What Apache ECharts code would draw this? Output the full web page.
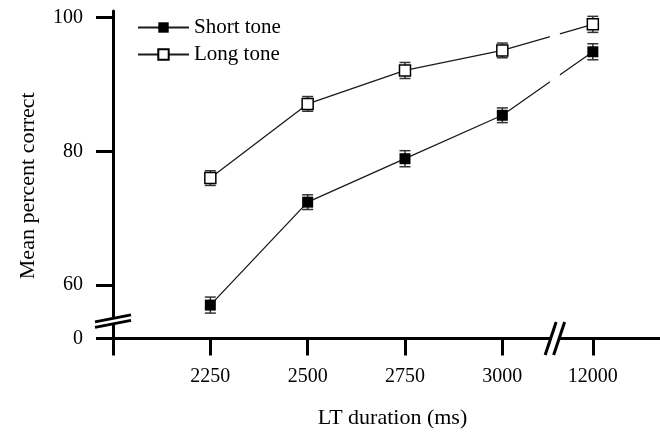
<!DOCTYPE html>
<html>
<head>
<meta charset="utf-8">
<script src="https://cdn.jsdelivr.net/npm/echarts@6/dist/echarts.min.js"></script>
<style>
  html, body { margin: 0; background: #fff; }
  #chart { width: 660px; height: 432px; }
</style>
</head>
<body>
<div id="chart"></div>
<script>
const durations = ['2250', '2500', '2750', '3000', '12000']
const shortTone = [57.0, 72.4, 78.9, 85.4, 94.9]
const shortErr = [1.2, 1.1, 1.2, 1.1, 1.2]
const longTone = [76.0, 87.1, 92.1, 95.1, 99.0]
const longErr = [1.1, 1.1, 1.2, 1.1, 1.2]
const yTicks = [52, 60, 80, 100] // 52 = start of broken axis, shown as 0

// x axis is broken between 3000 and 12000, last step is a bit shorter
const breakStep = 0.93
const xPos = i => (i < 4 ? i + 1 : 4 + breakStep)
const xBreak = 4.54
const yBreak = 54.6

const font = "'Liberation Serif', 'Times New Roman', serif"

function lineSeries(name, values, filled) {
  return {
    name: name,
    type: 'line',
    data: values.map((v, i) => [xPos(i), v]),
    symbol: 'rect',
    symbolSize: 11,
    lineStyle: { color: '#1a1a1a', width: 1.3 },
    itemStyle: { color: filled ? '#000' : '#fff', borderColor: '#000', borderWidth: filled ? 0 : 1.5 },
    z: 3
  }
}

function errorBars(name, values, errs) {
  return {
    name: name + ' sem',
    type: 'custom',
    data: values.map((v, i) => [xPos(i), v - errs[i], v + errs[i]]),
    encode: { x: 0, y: [1, 2] },
    renderItem: (params, api) => {
      const lo = api.coord([api.value(0), api.value(1)])
      const hi = api.coord([api.value(0), api.value(2)])
      const w = 5.5
      const style = { stroke: '#333', lineWidth: 1.5 }
      return {
        type: 'group',
        children: [
          { type: 'line', shape: { x1: lo[0], y1: lo[1], x2: hi[0], y2: hi[1] }, style: style },
          { type: 'line', shape: { x1: lo[0] - w, y1: lo[1], x2: lo[0] + w, y2: lo[1] }, style: style },
          { type: 'line', shape: { x1: hi[0] - w, y1: hi[1], x2: hi[0] + w, y2: hi[1] }, style: style }
        ]
      }
    },
    silent: true,
    z: 2
  }
}

const chart = echarts.init(document.getElementById('chart'))

chart.setOption({
  animation: false,
  textStyle: { fontFamily: font },
  grid: { left: 113, right: 0, top: 11, bottom: 93.5, containLabel: false, outerBoundsMode: 'none' },
  legend: {
    data: ['Short tone', 'Long tone'],
    orient: 'vertical',
    left: 132,
    top: 12,
    itemWidth: 51,
    itemHeight: 13,
    itemGap: 6,
    textStyle: { fontSize: 21, color: '#000', fontFamily: font }
  },
  xAxis: {
    type: 'value',
    min: 0,
    max: 5.62,
    name: 'LT duration (ms)',
    nameLocation: 'middle',
    nameGap: 69,
    nameTextStyle: { fontSize: 22, color: '#000', fontFamily: font, padding: [0, 0, 0, 12] },
    splitLine: { show: false },
    axisLine: { show: true, lineStyle: { color: '#000', width: 3 } },
    axisTick: {
      show: true, length: 17, inside: false,
      lineStyle: { color: '#000', width: 3 },
      customValues: [0].concat(durations.map((d, i) => xPos(i)))
    },
    axisLabel: {
      fontSize: 20, color: '#000', margin: 28, fontFamily: font,
      customValues: durations.map((d, i) => xPos(i)),
      formatter: v => {
        const i = durations.findIndex((d, k) => Math.abs(xPos(k) - v) < 0.01)
        return i >= 0 ? durations[i] : ''
      }
    }
  },
  yAxis: {
    type: 'value',
    min: 52,
    max: 101,
    name: 'Mean percent correct',
    nameLocation: 'middle',
    nameGap: 74,
    nameTextStyle: { fontSize: 22, color: '#000', fontFamily: font, padding: [0, 22, 0, 0] },
    splitLine: { show: false },
    axisLine: { show: true, onZero: false, lineStyle: { color: '#000', width: 3 } },
    axisTick: {
      show: true, length: 17, inside: false,
      lineStyle: { color: '#000', width: 3 },
      customValues: yTicks
    },
    axisLabel: {
      fontSize: 20, color: '#000', margin: 30, fontFamily: font,
      customValues: yTicks,
      formatter: v => (v === 52 ? '0' : String(v))
    }
  },
  series: [
    errorBars('Short tone', shortTone, shortErr),
    errorBars('Long tone', longTone, longErr),
    lineSeries('Short tone', shortTone, true),
    lineSeries('Long tone', longTone, false)
  ]
})

// break marks on both axes and the gap in the lines
const yb = chart.convertToPixel({ gridIndex: 0 }, [0, yBreak])
const xb = chart.convertToPixel({ gridIndex: 0 }, [xBreak, 52])
const gapTop = chart.convertToPixel({ gridIndex: 0 }, [xBreak, 101])
const gapBottom = chart.convertToPixel({ gridIndex: 0 }, [xBreak, 75])
const breakLine = { stroke: '#000', lineWidth: 3 }

chart.setOption({
  graphic: [
    // white gap in the data lines
    { type: 'rect', z: 50, shape: { x: xb[0] - 5, y: gapTop[1], width: 10, height: gapBottom[1] - gapTop[1] }, style: { fill: '#fff' } },
    // y axis break
    { type: 'polygon', z: 50, shape: { points: [[yb[0] - 18, yb[1] + 1], [yb[0] + 18, yb[1] - 6], [yb[0] + 18, yb[1] - 1], [yb[0] - 18, yb[1] + 6]] }, style: { fill: '#fff' } },
    { type: 'line', z: 51, shape: { x1: yb[0] - 18, y1: yb[1] + 0.75, x2: yb[0] + 18, y2: yb[1] - 6.25 }, style: breakLine },
    { type: 'line', z: 51, shape: { x1: yb[0] - 18, y1: yb[1] + 6.25, x2: yb[0] + 18, y2: yb[1] - 0.75 }, style: breakLine },
    // x axis break
    { type: 'polygon', z: 50, shape: { points: [[xb[0] - 4, xb[1] - 4], [xb[0] + 4, xb[1] - 4], [xb[0] + 4, xb[1] + 4], [xb[0] - 4, xb[1] + 4]] }, style: { fill: '#fff' } },
    { type: 'line', z: 51, shape: { x1: xb[0] - 9.75, y1: xb[1] + 16.5, x2: xb[0] + 1.25, y2: xb[1] - 16.5 }, style: breakLine },
    { type: 'line', z: 51, shape: { x1: xb[0] - 1.25, y1: xb[1] + 16.5, x2: xb[0] + 9.75, y2: xb[1] - 16.5 }, style: breakLine }
  ]
})
</script>
</body>
</html>
